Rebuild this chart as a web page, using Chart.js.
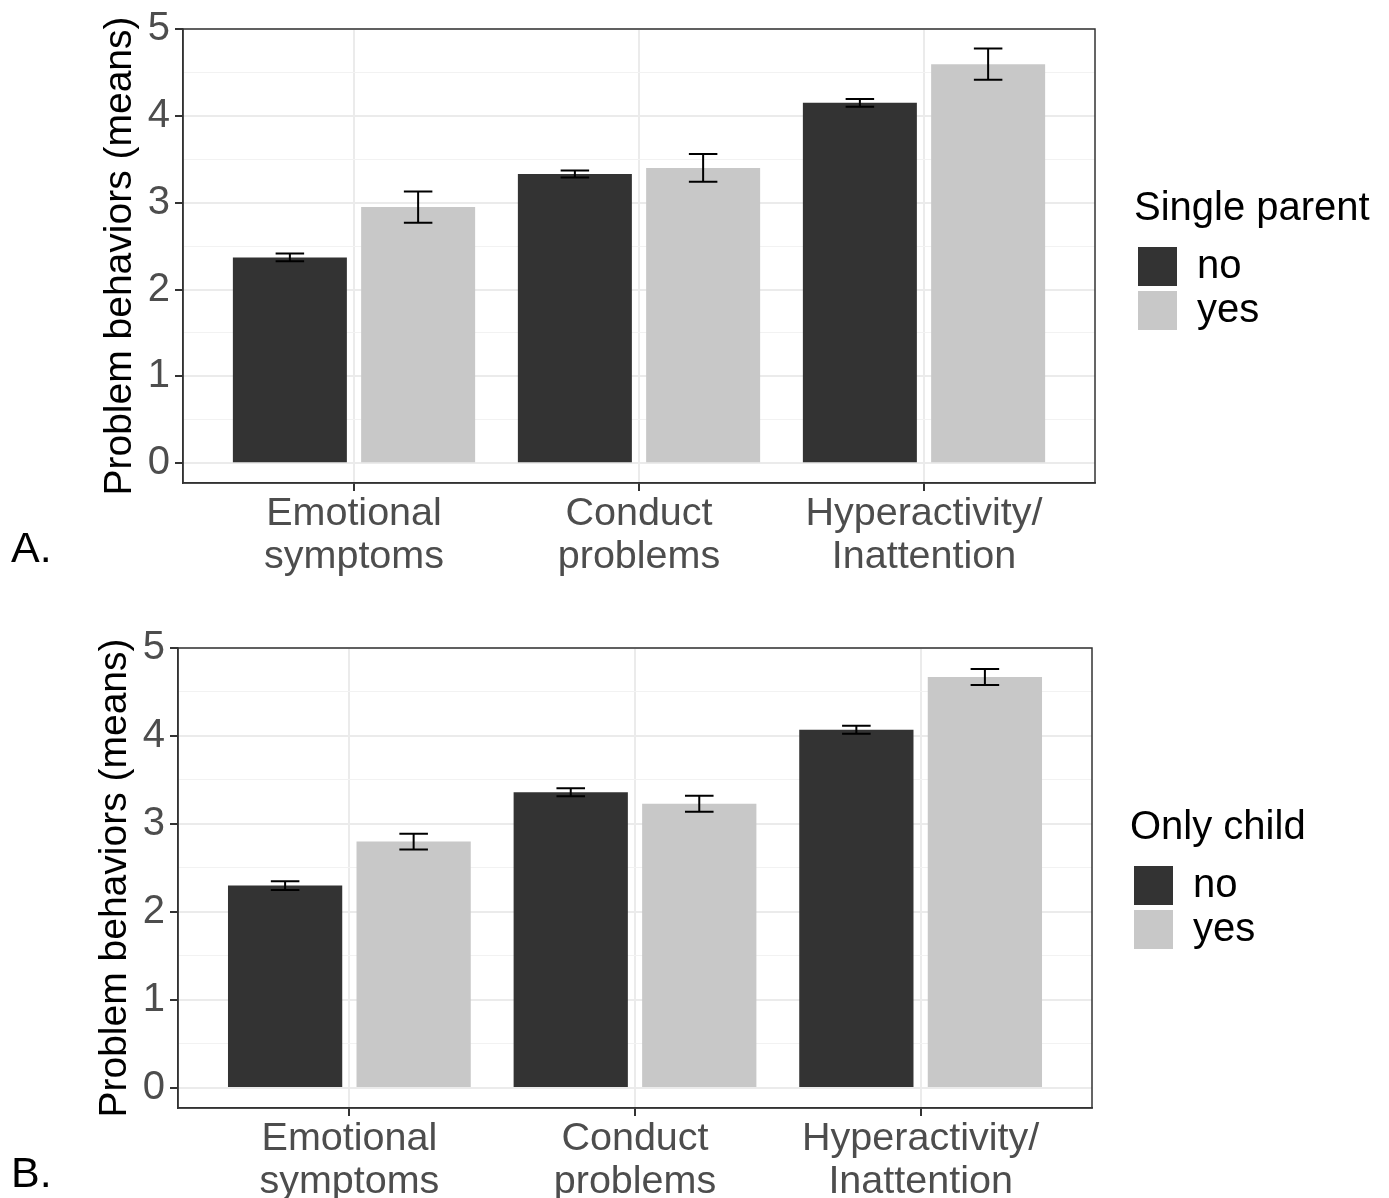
<!DOCTYPE html>
<html><head><meta charset="utf-8">
<script src="https://cdn.jsdelivr.net/npm/chart.js@4/dist/chart.umd.min.js"></script>
<style>
html,body{margin:0;padding:0;background:#fff;width:1389px;height:1198px;overflow:hidden;position:relative;}
canvas{position:absolute;left:0;}
#ca{top:0}
#cb{top:600px}
.tag{position:absolute;left:11px;font-family:'Liberation Sans',Arial,sans-serif;font-size:43px;line-height:43px;color:#000;}
</style></head><body>
<canvas id="ca" width="1389" height="600"></canvas>
<canvas id="cb" width="1389" height="598"></canvas>
<div class="tag" style="top:526px">A.</div>
<div class="tag" style="top:1151px">B.</div>
<script>
const categories = [["Emotional","symptoms"],["Conduct","problems"],["Hyperactivity/","Inattention"]];
const categoryPositions = [1, 2, 3];
const groupLabels = ["no", "yes"];
const yMajorTicks = [0, 1, 2, 3, 4, 5];
const yMinorTicks = [0.5, 1.5, 2.5, 3.5, 4.5];
const yAxisTitle = "Problem behaviors (means)";

const singleParentTitle = "Single parent";
const singleParentNo = [2.37, 3.33, 4.15];
const singleParentNoSE = [0.045, 0.04, 0.045];
const singleParentYes = [2.95, 3.40, 4.595];
const singleParentYesSE = [0.18, 0.16, 0.18];

const onlyChildTitle = "Only child";
const onlyChildNo = [2.30, 3.36, 4.07];
const onlyChildNoSE = [0.05, 0.045, 0.045];
const onlyChildYes = [2.80, 3.23, 4.67];
const onlyChildYesSE = [0.09, 0.09, 0.09];

const FONT = "'Liberation Sans', Arial, Helvetica, sans-serif";
const LEGEND_WIDTH = 250;

const errorBars = {
  id: 'errorBars',
  afterDatasetsDraw(chart) {
    const ctx = chart.ctx, xs = chart.scales.x, ys = chart.scales.y;
    const half = Math.abs(xs.getPixelForValue(1.05) - xs.getPixelForValue(1));
    ctx.save();
    ctx.strokeStyle = '#000';
    ctx.lineWidth = 2;
    chart.data.datasets.forEach((ds, i) => {
      const meta = chart.getDatasetMeta(i);
      meta.data.forEach((bar, j) => {
        const v = ds.data[j].y, e = ds.errors[j];
        const yTop = ys.getPixelForValue(v + e), yBot = ys.getPixelForValue(v - e);
        const x = bar.x;
        ctx.beginPath();
        ctx.moveTo(x, yTop); ctx.lineTo(x, yBot);
        ctx.moveTo(x - half, yTop); ctx.lineTo(x + half, yTop);
        ctx.moveTo(x - half, yBot); ctx.lineTo(x + half, yBot);
        ctx.stroke();
      });
    });
    const a = chart.chartArea;
    ctx.strokeStyle = '#333333';
    ctx.lineWidth = 1.5;
    ctx.strokeRect(a.left, a.top, a.right - a.left, a.bottom - a.top);
    ctx.restore();
  }
};

const legendWidthFix = {
  id: 'legendWidthFix',
  beforeLayout(chart) {
    const lg = chart.legend;
    if (lg && !lg._wfix) {
      const f = lg.fit;
      lg.fit = function () { f.call(this); this.width = LEGEND_WIDTH; };
      lg._wfix = true;
    }
  }
};

function isMajor(c) { return c.tick && yMajorTicks.includes(c.tick.value); }

function makeChart(id, legendTitle, noVals, noSE, yesVals, yesSE, g) {
  const toPts = vals => vals.map((v, i) => ({x: categoryPositions[i], y: v}));
  return new Chart(document.getElementById(id), {
    type: 'bar',
    data: {
      datasets: [
        {label: groupLabels[0], data: toPts(noVals), errors: noSE, backgroundColor: '#333333', borderColor: '#333333', borderWidth: 0, xAxisID: 'x', yAxisID: 'y'},
        {label: groupLabels[1], data: toPts(yesVals), errors: yesSE, backgroundColor: '#C8C8C8', borderColor: '#C8C8C8', borderWidth: 0, xAxisID: 'x', yAxisID: 'y'}
      ]
    },
    options: {
      responsive: false,
      animation: false,
      devicePixelRatio: 1,
      categoryPercentage: 0.9,
      barPercentage: 0.8 / 0.9,
      layout: {padding: {left: 0, top: g.top, right: g.padRight, bottom: 0}},
      plugins: {
        tooltip: {enabled: false},
        legend: {
          position: 'right', align: 'start', fullSize: false,
          title: {display: true, text: legendTitle, position: 'start', color: '#000', font: {family: FONT, size: 40}, padding: {top: 160, bottom: 5.6}},
          labels: {boxWidth: 39, boxHeight: 39, padding: 4, color: '#000', font: {family: FONT, size: 40}}
        }
      },
      scales: {
        x: {
          type: 'linear', min: 0.4, max: 3.6, offset: false, bounds: 'data',
          afterBuildTicks: s => { s.ticks = categoryPositions.map(v => ({value: v})); },
          afterFit: s => { s.height = g.xAxisHeight; },
          grid: {offset: false, color: '#EBEBEB', lineWidth: 2, tickLength: 8, tickColor: '#333333', tickWidth: 2},
          border: {display: true, color: '#333333', width: 1.5},
          ticks: {autoSkip: false, maxRotation: 0, minRotation: 0, padding: 1, color: '#4D4D4D',
            font: {family: FONT, size: 39.5, lineHeight: 1.1},
            callback: v => { const i = categoryPositions.indexOf(v); return i >= 0 ? categories[i] : ''; }}
        },
        y: {
          type: 'linear', min: -0.228, max: 5, bounds: 'data',
          afterBuildTicks: s => { s.ticks = yMajorTicks.concat(yMinorTicks).sort((a, b) => a - b).map(v => ({value: v})); },
          afterFit: s => { s.width = g.yAxisWidth; },
          grid: {
            color: c => isMajor(c) ? '#EBEBEB' : '#F2F2F2',
            lineWidth: c => isMajor(c) ? 2 : 1,
            tickLength: 8,
            tickColor: c => isMajor(c) ? '#333333' : 'rgba(0,0,0,0)',
            tickWidth: 2
          },
          border: {display: true, color: '#333333', width: 1.5},
          ticks: {autoSkip: false, padding: 5, color: '#4D4D4D', font: {family: FONT, size: 40},
            callback: v => yMajorTicks.includes(v) ? String(v) : ''},
          title: {display: true, text: yAxisTitle, color: '#000', font: {family: FONT, size: 39}, padding: {top: g.titlePad, bottom: 0}}
        },
        padR: {
          type: 'linear', position: 'right', display: true,
          grid: {display: false, drawTicks: false}, ticks: {display: false}, border: {display: false},
          afterFit: s => { s.width = g.legendGap; }
        }
      }
    },
    plugins: [errorBars, legendWidthFix]
  });
}

makeChart('ca', singleParentTitle, singleParentNo, singleParentNoSE, singleParentYes, singleParentYesSE,
  {top: 25, padRight: 1389 - 1095 - 39 - LEGEND_WIDTH, legendGap: 39, xAxisHeight: 117, yAxisWidth: 183, titlePad: 97});
makeChart('cb', onlyChildTitle, onlyChildNo, onlyChildNoSE, onlyChildYes, onlyChildYesSE,
  {top: 48, padRight: 1389 - 1092 - 38 - LEGEND_WIDTH, legendGap: 38, xAxisHeight: 90, yAxisWidth: 178, titlePad: 92});
</script>
</body></html>
